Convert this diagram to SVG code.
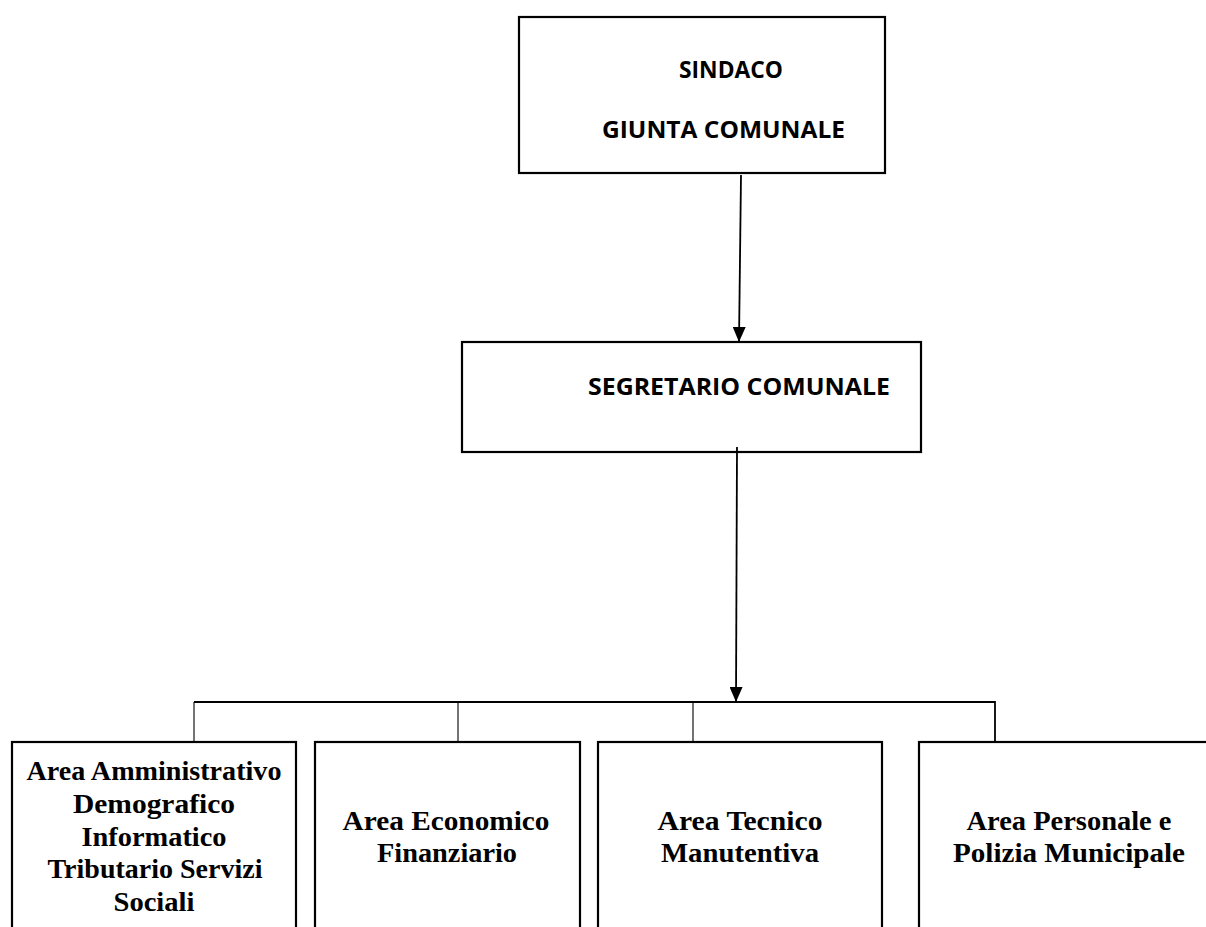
<svg xmlns="http://www.w3.org/2000/svg" width="1206" height="927" viewBox="0 0 1206 927">
<defs>
<marker id="arrow" markerUnits="userSpaceOnUse" markerWidth="15" markerHeight="13" refX="15" refY="6.5" orient="auto">
<path d="M0,0 L15,6.5 L0,13 z" fill="#000"/>
</marker>
<style>
.box{fill:#fff;stroke:#000;stroke-width:2.2}
.sans{font-family:"Open Sans","Liberation Sans",sans-serif;font-weight:bold;font-size:22.5px;fill:#000}
.serif{font-family:"Liberation Serif","DejaVu Serif",serif;font-weight:bold;font-size:27px;fill:#000}
.conn{fill:none;stroke:#000;stroke-width:1.8}
.thin{fill:none;stroke:#000;stroke-width:1.1}
</style>
</defs>
<rect width="1206" height="927" fill="#fff"/>
<g id="sindaco">
<rect class="box" x="519" y="17" width="366" height="156"/>
<text class="sans" x="679" y="78" textLength="104" lengthAdjust="spacingAndGlyphs">SINDACO</text>
<text class="sans" x="602" y="138" textLength="243" lengthAdjust="spacingAndGlyphs">GIUNTA COMUNALE</text>
</g>
<g id="segretario">
<rect class="box" x="462" y="342" width="459" height="110"/>
<text class="sans" x="588" y="395" textLength="302" lengthAdjust="spacingAndGlyphs">SEGRETARIO COMUNALE</text>
</g>
<g id="area1">
<rect class="box" x="12" y="742" width="284" height="200"/>
<text class="serif" x="154" y="780" text-anchor="middle" textLength="255" lengthAdjust="spacingAndGlyphs">Area Amministrativo</text>
<text class="serif" x="154" y="813" text-anchor="middle" textLength="162" lengthAdjust="spacingAndGlyphs">Demografico</text>
<text class="serif" x="154" y="846" text-anchor="middle" textLength="145" lengthAdjust="spacingAndGlyphs">Informatico</text>
<text class="serif" x="155" y="878" text-anchor="middle" textLength="215" lengthAdjust="spacingAndGlyphs">Tributario Servizi</text>
<text class="serif" x="154" y="911" text-anchor="middle" textLength="81" lengthAdjust="spacingAndGlyphs">Sociali</text>
</g>
<g id="area2">
<rect class="box" x="315" y="742" width="265" height="200"/>
<text class="serif" x="446" y="830" text-anchor="middle" textLength="207" lengthAdjust="spacingAndGlyphs">Area Economico</text>
<text class="serif" x="447" y="862" text-anchor="middle" textLength="140" lengthAdjust="spacingAndGlyphs">Finanziario</text>
</g>
<g id="area3">
<rect class="box" x="598" y="742" width="284" height="200"/>
<text class="serif" x="740" y="830" text-anchor="middle" textLength="165" lengthAdjust="spacingAndGlyphs">Area Tecnico</text>
<text class="serif" x="740" y="862" text-anchor="middle" textLength="158" lengthAdjust="spacingAndGlyphs">Manutentiva</text>
</g>
<g id="area4">
<rect class="box" x="919" y="742" width="310" height="200"/>
<text class="serif" x="1069" y="830" text-anchor="middle" textLength="205" lengthAdjust="spacingAndGlyphs">Area Personale e</text>
<text class="serif" x="1069" y="862" text-anchor="middle" textLength="232" lengthAdjust="spacingAndGlyphs">Polizia Municipale</text>
</g>
<g id="connectors">
<line class="conn" x1="741" y1="175" x2="739" y2="342" marker-end="url(#arrow)"/>
<line class="conn" x1="737" y1="447" x2="736" y2="702" marker-end="url(#arrow)"/>
<polyline class="conn" points="194,702 995,702 995,742" stroke-width="2.2"/>
<line class="thin" x1="194" y1="702" x2="194" y2="742"/>
<line class="thin" x1="458" y1="702" x2="458" y2="742"/>
<line class="thin" x1="693" y1="702" x2="693" y2="742"/>
</g>
</svg>
